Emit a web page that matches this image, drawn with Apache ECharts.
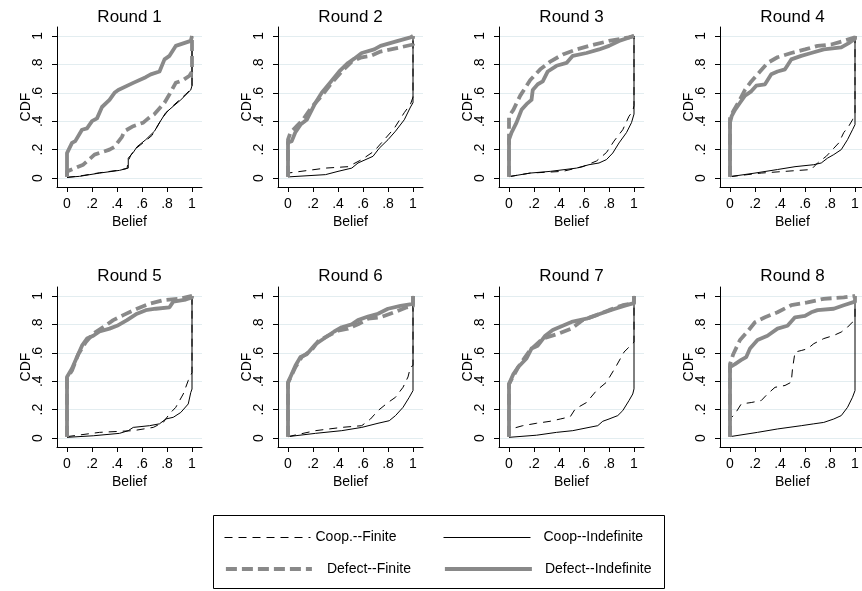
<!DOCTYPE html>
<html><head><meta charset="utf-8">
<script src="https://cdn.jsdelivr.net/npm/echarts@6/dist/echarts.min.js"></script>
<style>html,body{margin:0;padding:0;background:#fff}#c{width:862px;height:591px}</style>
</head><body><div id="c"></div>
<script>
const roundTitles = ['Round 1','Round 2','Round 3','Round 4','Round 5','Round 6','Round 7','Round 8'];
const seriesNames = ['Coop.--Finite','Coop--Indefinite','Defect--Finite','Defect--Indefinite'];
const tickValues = [0, 0.2, 0.4, 0.6, 0.8, 1];
const xTitle = 'Belief';
const yTitle = 'CDF';

// [belief, cdf] pairs
const r1CoopFinite = [[0,0.005],[0.1,0.014],[0.26,0.037],[0.42,0.056],[0.48,0.068],[0.49,0.12],[0.51,0.16],[0.54,0.2],[0.59,0.235],[0.64,0.27],[0.68,0.3],[0.72,0.36],[0.76,0.42],[0.8,0.465],[0.85,0.51],[0.9,0.55],[0.95,0.59],[0.99,0.625],[1,0.65],[1,1]];
const r1CoopIndef = [[0,0.005],[0.1,0.012],[0.26,0.035],[0.42,0.054],[0.49,0.07],[0.49,0.14],[0.53,0.18],[0.56,0.22],[0.63,0.27],[0.7,0.33],[0.74,0.39],[0.79,0.46],[0.85,0.505],[0.91,0.55],[0.99,0.62],[1,0.65],[1,1]];
const r1DefectFinite = [[0,0.01],[0,0.047],[0.066,0.07],[0.13,0.094],[0.22,0.165],[0.34,0.2],[0.38,0.22],[0.44,0.29],[0.46,0.33],[0.53,0.365],[0.61,0.39],[0.65,0.42],[0.7,0.45],[0.78,0.53],[0.82,0.59],[0.87,0.67],[0.93,0.69],[0.98,0.72],[1,0.75],[1,1]];
const r1DefectIndef = [[0,0.01],[0,0.176],[0.04,0.247],[0.066,0.26],[0.12,0.34],[0.16,0.35],[0.2,0.4],[0.24,0.42],[0.28,0.5],[0.34,0.55],[0.38,0.6],[0.41,0.62],[0.53,0.67],[0.63,0.71],[0.67,0.73],[0.74,0.75],[0.78,0.835],[0.82,0.86],[0.87,0.93],[0.99,0.965],[1,1]];

const r2CoopFinite = [[0,0.01],[0,0.035],[0.3,0.07],[0.48,0.08],[0.59,0.13],[0.69,0.19],[0.77,0.27],[0.85,0.35],[0.93,0.46],[0.98,0.52],[1,0.57],[1,1]];
const r2CoopIndef = [[0,0.008],[0.3,0.024],[0.4,0.047],[0.51,0.07],[0.56,0.106],[0.68,0.153],[0.73,0.21],[0.8,0.27],[0.86,0.33],[0.93,0.41],[0.98,0.5],[1,0.53],[1,1]];
const r2DefectFinite = [[0,0.01],[0,0.27],[0.02,0.32],[0.07,0.365],[0.12,0.41],[0.19,0.5],[0.27,0.58],[0.35,0.67],[0.43,0.75],[0.51,0.82],[0.59,0.85],[0.66,0.86],[0.74,0.89],[0.9,0.92],[1,0.94],[1,1]];
const r2DefectIndef = [[0,0.01],[0,0.25],[0.03,0.26],[0.058,0.32],[0.1,0.376],[0.15,0.41],[0.22,0.53],[0.27,0.6],[0.335,0.67],[0.41,0.75],[0.48,0.81],[0.53,0.84],[0.59,0.88],[0.69,0.905],[0.74,0.93],[0.88,0.965],[0.98,0.99],[1,1]];

const r3CoopFinite = [[0,0.01],[0.17,0.035],[0.43,0.047],[0.59,0.08],[0.7,0.12],[0.78,0.18],[0.84,0.26],[0.91,0.34],[0.96,0.435],[0.99,0.47],[1,0.51],[1,1]];
const r3CoopIndef = [[0,0.01],[0.17,0.035],[0.33,0.047],[0.54,0.07],[0.64,0.094],[0.72,0.106],[0.78,0.13],[0.83,0.176],[0.88,0.247],[0.94,0.32],[0.98,0.39],[1,0.45],[1,1]];
const r3DefectFinite = [[0,0.01],[0,0.435],[0.035,0.48],[0.09,0.58],[0.17,0.69],[0.25,0.765],[0.33,0.82],[0.43,0.87],[0.54,0.905],[0.64,0.93],[0.8,0.965],[0.96,0.99],[1,1]];
const r3DefectIndef = [[0,0.01],[0,0.27],[0.02,0.32],[0.06,0.39],[0.1,0.48],[0.14,0.52],[0.18,0.55],[0.19,0.62],[0.23,0.66],[0.27,0.68],[0.31,0.75],[0.38,0.79],[0.46,0.81],[0.51,0.86],[0.62,0.88],[0.72,0.905],[0.8,0.93],[0.88,0.965],[1,1]];

const r4CoopFinite = [[0,0.01],[0.25,0.035],[0.44,0.047],[0.65,0.06],[0.7,0.106],[0.77,0.153],[0.82,0.2],[0.87,0.247],[0.91,0.32],[0.95,0.365],[0.98,0.41],[1,0.46],[1,1]];
const r4CoopIndef = [[0,0.01],[0.2,0.035],[0.38,0.06],[0.52,0.08],[0.67,0.094],[0.73,0.106],[0.78,0.14],[0.83,0.165],[0.89,0.2],[0.94,0.27],[0.98,0.34],[1,0.376],[1,1]];
const r4DefectFinite = [[0,0.01],[0,0.42],[0.026,0.47],[0.066,0.53],[0.12,0.62],[0.17,0.68],[0.24,0.75],[0.3,0.81],[0.38,0.85],[0.49,0.88],[0.6,0.905],[0.7,0.93],[0.81,0.94],[0.91,0.965],[1,0.99],[1,1]];
const r4DefectIndef = [[0,0.01],[0,0.39],[0.013,0.435],[0.04,0.48],[0.08,0.53],[0.12,0.58],[0.17,0.61],[0.21,0.65],[0.28,0.66],[0.33,0.73],[0.38,0.75],[0.44,0.765],[0.49,0.835],[0.57,0.86],[0.65,0.88],[0.75,0.905],[0.89,0.92],[0.95,0.95],[1,0.98],[1,1]];

const r5CoopFinite = [[0,0.01],[0,0.016],[0.26,0.04],[0.53,0.052],[0.69,0.075],[0.77,0.11],[0.82,0.17],[0.87,0.216],[0.93,0.31],[0.97,0.405],[1,0.46],[1,1]];
const r5CoopIndef = [[0,0.005],[0.21,0.016],[0.42,0.033],[0.49,0.052],[0.53,0.075],[0.66,0.087],[0.74,0.1],[0.79,0.134],[0.85,0.146],[0.91,0.18],[0.97,0.24],[0.99,0.32],[1,0.345],[1,1]];
const r5DefectFinite = [[0,0.01],[0,0.42],[0.04,0.475],[0.09,0.59],[0.15,0.675],[0.21,0.735],[0.29,0.78],[0.37,0.83],[0.45,0.865],[0.56,0.91],[0.66,0.945],[0.77,0.97],[0.9,0.98],[1,1]];
const r5DefectIndef = [[0,0.01],[0,0.43],[0.04,0.49],[0.08,0.57],[0.12,0.65],[0.16,0.7],[0.21,0.72],[0.26,0.75],[0.34,0.77],[0.4,0.79],[0.48,0.83],[0.56,0.875],[0.63,0.9],[0.71,0.91],[0.82,0.92],[0.85,0.96],[0.95,0.975],[1,0.99],[1,1]];

const r6CoopFinite = [[0,0.01],[0,0.024],[0.22,0.052],[0.43,0.075],[0.59,0.087],[0.66,0.134],[0.72,0.193],[0.8,0.25],[0.86,0.287],[0.92,0.357],[0.96,0.43],[0.98,0.5],[1,0.51],[1,1]];
const r6CoopIndef = [[0,0.01],[0,0.016],[0.22,0.033],[0.43,0.052],[0.59,0.075],[0.72,0.104],[0.81,0.122],[0.86,0.158],[0.92,0.216],[0.97,0.287],[1,0.334],[1,1]];
const r6DefectFinite = [[0,0.01],[0,0.39],[0.06,0.5],[0.11,0.57],[0.19,0.62],[0.24,0.68],[0.32,0.72],[0.4,0.755],[0.48,0.77],[0.56,0.8],[0.64,0.84],[0.74,0.85],[0.85,0.885],[0.95,0.92],[1,0.93],[1,1]];
const r6DefectIndef = [[0,0.01],[0,0.39],[0.03,0.45],[0.06,0.51],[0.1,0.57],[0.15,0.59],[0.19,0.63],[0.22,0.66],[0.27,0.69],[0.32,0.72],[0.37,0.75],[0.43,0.78],[0.51,0.8],[0.56,0.83],[0.64,0.855],[0.72,0.875],[0.8,0.91],[0.9,0.93],[1,0.945],[1,1]];

const r7CoopFinite = [[0,0.01],[0,0.06],[0.11,0.087],[0.22,0.104],[0.33,0.118],[0.41,0.134],[0.49,0.15],[0.53,0.205],[0.62,0.25],[0.7,0.334],[0.78,0.393],[0.86,0.51],[0.92,0.605],[0.96,0.64],[1,0.675],[1,1]];
const r7CoopIndef = [[0,0.005],[0.22,0.02],[0.38,0.04],[0.51,0.052],[0.64,0.075],[0.71,0.087],[0.75,0.118],[0.8,0.134],[0.87,0.158],[0.91,0.193],[0.96,0.264],[0.99,0.31],[1,0.346],[1,1]];
const r7DefectFinite = [[0,0.01],[0,0.38],[0.074,0.5],[0.17,0.62],[0.27,0.7],[0.38,0.73],[0.5,0.77],[0.59,0.83],[0.7,0.865],[0.8,0.9],[0.91,0.935],[1,0.95],[1,1]];
const r7DefectIndef = [[0,0.01],[0,0.38],[0.035,0.45],[0.074,0.5],[0.14,0.56],[0.18,0.63],[0.23,0.65],[0.29,0.72],[0.35,0.76],[0.43,0.79],[0.51,0.82],[0.62,0.84],[0.73,0.875],[0.83,0.905],[0.94,0.935],[1,0.95],[1,1]];

const r8CoopFinite = [[0,0.01],[0,0.134],[0.04,0.17],[0.09,0.24],[0.17,0.25],[0.25,0.264],[0.3,0.31],[0.36,0.357],[0.44,0.37],[0.49,0.393],[0.5,0.487],[0.52,0.605],[0.57,0.616],[0.62,0.628],[0.67,0.664],[0.75,0.7],[0.83,0.722],[0.89,0.746],[0.94,0.78],[0.98,0.816],[1,0.83],[1,1]];
const r8CoopIndef = [[0,0.01],[0,0.016],[0.22,0.04],[0.38,0.064],[0.57,0.087],[0.67,0.1],[0.75,0.11],[0.83,0.134],[0.89,0.158],[0.94,0.216],[0.98,0.287],[1,0.334],[1,1]];
const r8DefectFinite = [[0,0.01],[0,0.52],[0.026,0.59],[0.08,0.69],[0.15,0.76],[0.2,0.815],[0.28,0.85],[0.38,0.885],[0.49,0.935],[0.62,0.955],[0.75,0.98],[0.91,0.99],[1,1]];
const r8DefectIndef = [[0,0.01],[0,0.5],[0.04,0.52],[0.09,0.55],[0.13,0.57],[0.16,0.63],[0.22,0.69],[0.3,0.72],[0.38,0.77],[0.46,0.79],[0.52,0.85],[0.6,0.86],[0.65,0.885],[0.7,0.9],[0.83,0.91],[0.91,0.935],[1,0.96],[1,1]];

const roundData = [
  [r1CoopFinite, r1CoopIndef, r1DefectFinite, r1DefectIndef],
  [r2CoopFinite, r2CoopIndef, r2DefectFinite, r2DefectIndef],
  [r3CoopFinite, r3CoopIndef, r3DefectFinite, r3DefectIndef],
  [r4CoopFinite, r4CoopIndef, r4DefectFinite, r4DefectIndef],
  [r5CoopFinite, r5CoopIndef, r5DefectFinite, r5DefectIndef],
  [r6CoopFinite, r6CoopIndef, r6DefectFinite, r6DefectIndef],
  [r7CoopFinite, r7CoopIndef, r7DefectFinite, r7DefectIndef],
  [r8CoopFinite, r8CoopIndef, r8DefectFinite, r8DefectIndef]
];

const FONT = '"Liberation Sans", Arial, Helvetica, sans-serif';
const GRAY = '#898989';
const lineStyles = [
  {color:'#000', width:1, type:[8,6]},
  {color:'#000', width:1, type:'solid'},
  {color:GRAY, width:3.8, type:[11,5]},
  {color:GRAY, width:3.8, type:'solid'}
];
const fmt = v => v === 0 ? '0' : (v === 1 ? '1' : String(v).replace(/^0/, ''));

const grids = [], xAxes = [], yAxes = [], series = [], graphics = [];
for (let i = 0; i < 8; i++) {
  const col = i % 4, row = Math.floor(i / 4);
  const left = 57 + 221 * col, top = row === 0 ? 27 : 287, w = 145, h = 160;
  grids.push({left, top, width: w, height: h, containLabel: false, outerBoundsMode: 'none'});
  xAxes.push({
    gridIndex: i, type: 'value', min: -0.08, max: 1.08,
    axisLine: {show: true, onZero: false, lineStyle: {color: '#000', width: 1}},
    axisTick: {show: true, length: 5, customValues: tickValues, lineStyle: {color: '#000'}},
    axisLabel: {customValues: tickValues, formatter: fmt, margin: 10, fontSize: 14, color: '#000', fontFamily: FONT},
    splitLine: {show: false},
    name: xTitle, nameLocation: 'middle', nameGap: 28, nameMoveOverlap: false,
    nameTextStyle: {fontSize: 14, color: '#000', fontFamily: FONT}
  });
  yAxes.push({
    gridIndex: i, type: 'value', min: -0.063, max: 1.063,
    axisLine: {show: true, onZero: false, lineStyle: {color: '#000', width: 1}},
    axisTick: {show: true, length: 5, customValues: tickValues, lineStyle: {color: '#000'}},
    axisLabel: {customValues: tickValues, formatter: fmt, rotate: 90, margin: 12, fontSize: 14, color: '#000', fontFamily: FONT},
    splitLine: {show: true, lineStyle: {color: '#e3edf0', width: 1}},
    name: yTitle, nameLocation: 'middle', nameGap: 24, nameMoveOverlap: false,
    nameTextStyle: {fontSize: 14, color: '#000', fontFamily: FONT}
  });
  graphics.push({
    type: 'text', x: left + w / 2, y: row === 0 ? 17 : 276,
    style: {text: roundTitles[i], align: 'center', verticalAlign: 'middle', fontSize: 17, fontFamily: FONT, fill: '#000'}
  });
  roundData[i].forEach((d, k) => {
    series.push({
      type: 'line', name: seriesNames[k], xAxisIndex: i, yAxisIndex: i,
      data: d, showSymbol: false, symbol: 'none', silent: true, z: 2 + k,
      color: lineStyles[k].color,
      lineStyle: {color: lineStyles[k].color, width: lineStyles[k].width, type: lineStyles[k].type, cap: 'butt', join: 'round'}
    });
  });
}

graphics.unshift({type: 'rect', shape: {x: 213.5, y: 515.5, width: 451, height: 73}, style: {fill: '#fff', stroke: '#000', lineWidth: 1}, z: -1});

const legendPos = [
  {left: 224, top: 530.5, w: 86, pad: 0},
  {left: 443, top: 530.5, w: 87, pad: 8},
  {left: 224, top: 562, w: 86, pad: 10},
  {left: 443, top: 562, w: 87, pad: 8}
];
const legends = seriesNames.map((n, k) => ({
  data: [n], left: legendPos[k].left, top: legendPos[k].top, padding: 0,
  itemWidth: legendPos[k].w, itemHeight: 14, selectedMode: false,
  itemStyle: {opacity: 0},
  lineStyle: {color: lineStyles[k].color, width: lineStyles[k].width, type: lineStyles[k].type, cap: 'butt'},
  textStyle: {fontSize: 14, color: '#000', fontFamily: FONT, padding: [0, 0, 0, legendPos[k].pad]}
}));

const chart = echarts.init(document.getElementById('c'), null, {renderer: 'canvas'});
chart.setOption({
  animation: false,
  backgroundColor: '#fff',
  grid: grids, xAxis: xAxes, yAxis: yAxes, series,
  legend: legends,
  graphic: graphics
});
</script></body></html>
